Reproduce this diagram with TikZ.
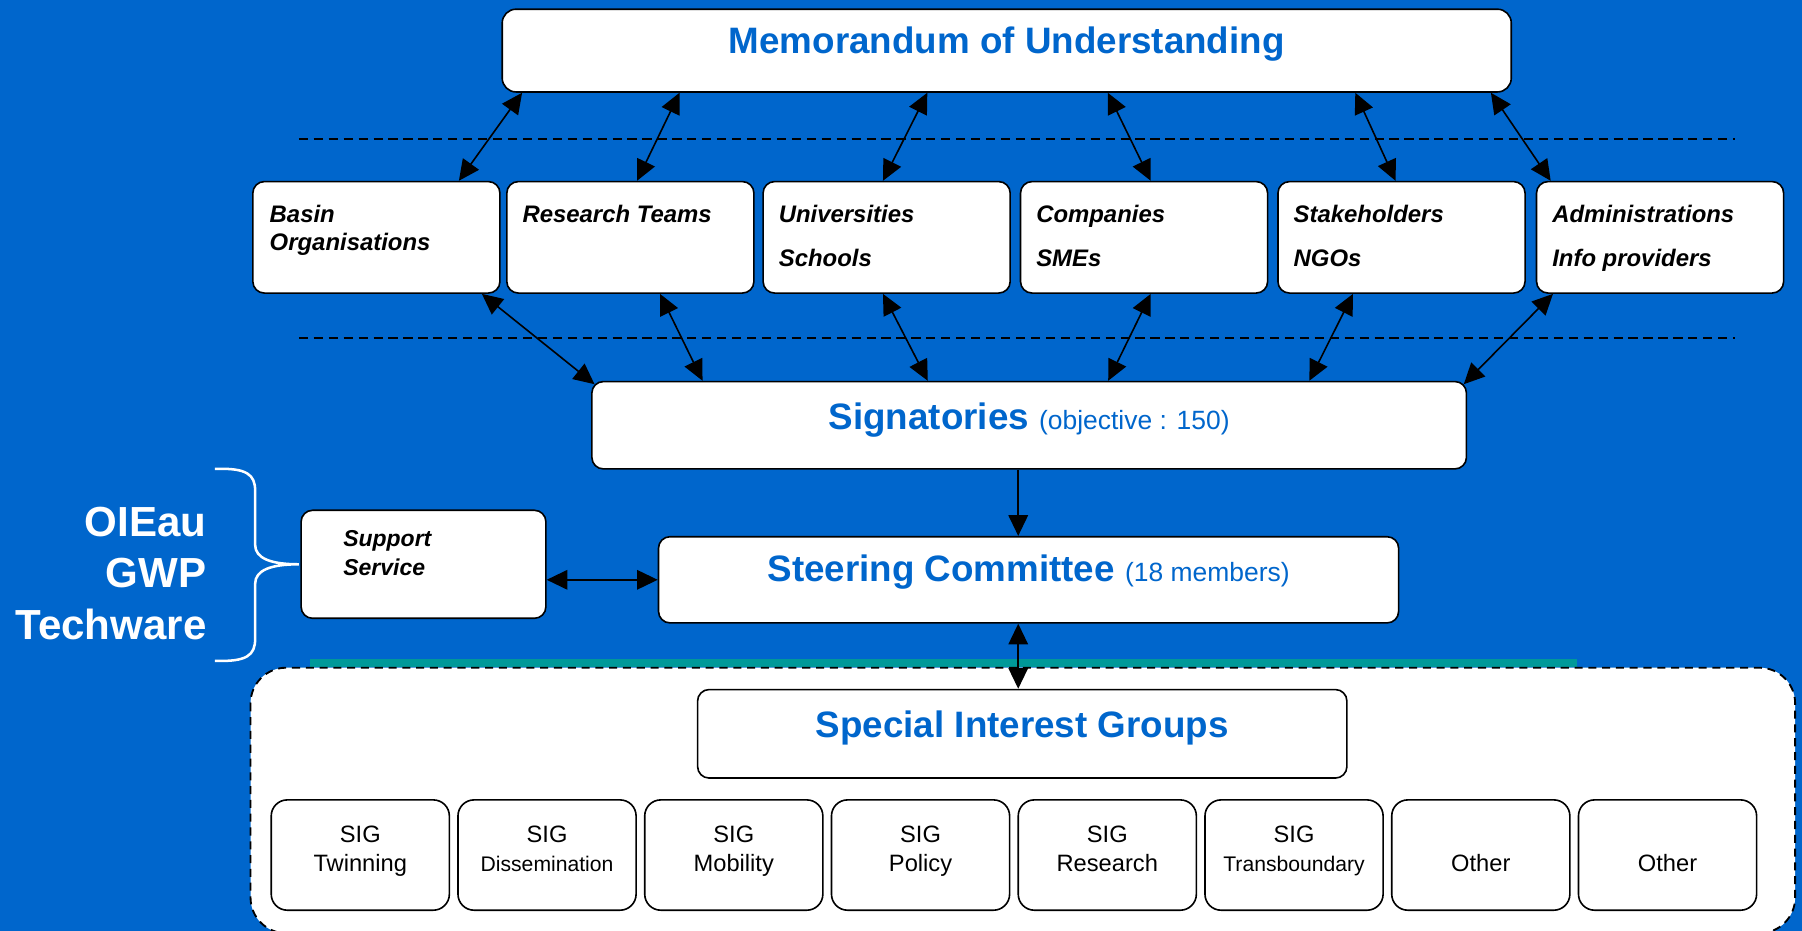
\documentclass[tikz,border=0pt]{standalone}
\usepackage{fontspec}
\setmainfont{Liberation Sans}
\usetikzlibrary{calc,arrows.meta}
\definecolor{bgblue}{RGB}{0,102,204}
\definecolor{txtblue}{RGB}{0,102,204}
\definecolor{tealbar}{RGB}{0,153,153}
\newcommand{\bigfont}{\fontsize{16}{19}\selectfont\bfseries}
\newcommand{\smallblue}{\fontsize{11.5}{14}\selectfont\mdseries}
\newcommand{\partfont}{\fontsize{10.4}{12.5}\selectfont\bfseries\itshape}
\newcommand{\supfont}{\fontsize{10}{12.5}\selectfont\bfseries\itshape}
\newcommand{\sidefont}{\fontsize{18.3}{22.3}\selectfont\bfseries}
\newcommand{\sigfont}{\fontsize{10.3}{12.5}\selectfont}
\newcommand{\sigsmall}{\fontsize{9.2}{11}\selectfont}

\tikzset{
  box/.style={draw=black, line width=0.7pt, fill=white, rounded corners=5pt, inner sep=0pt},
  partbox/.style={box, minimum width=107.5pt, minimum height=48.5pt},
  sigbox/.style={box, rounded corners=7pt, minimum width=77.5pt, minimum height=48pt},
  parttext/.style={font=\partfont, align=left, inner sep=0pt, anchor=north west},
  sigtext/.style={font=\sigfont, align=center, inner sep=0pt, anchor=north},
  headtext/.style={font=\bigfont, text=txtblue, inner sep=0pt, anchor=base},
  link/.style={line width=0.7pt, >={Triangle[length=9pt,width=8.5pt]}, <->},
  feed/.style={link, ->},
  sepline/.style={draw=black, line width=0.8pt, dash pattern=on 4pt off 2.5pt},
}

\begin{document}
\begin{tikzpicture}[x=0.5pt, y=-0.5pt]

    \fill[bgblue] (0,0) rectangle (1568,810);
    \useasboundingbox (0,0) rectangle (1568,810);

    % separateurs
    \draw[sepline] (260,121) -- (1510,121);
    \draw[sepline] (260,294) -- (1510,294);

    % cadre des SIG
    \draw[tealbar, line width=3.5pt] (270,577) -- (1372,577);
    \draw[fill=white, draw=black, line width=0.8pt, dash pattern=on 3.5pt off 2.5pt, rounded corners=15.5pt] (218,581) rectangle (1562,812);

    % memorandum
    \node[box, rounded corners=6pt, minimum width=439pt, minimum height=36pt] (memo) at (876,44) {};
    \node[headtext] (memoT) at ($(memo.north)+(0,39)$) {Memorandum of Understanding};

    % partenaires
    \node[partbox] (basin) at (327.5,206.5) {};
    \node[partbox] (research) at (548.5,206.5) {};
    \node[partbox] (univ) at (771.5,206.5) {};
    \node[partbox] (comp) at (995.5,206.5) {};
    \node[partbox] (stake) at (1219.5,206.5) {};
    \node[partbox] (admin) at (1444.5,206.5) {};

    \node[parttext] (basinT) at ($(basin.north west)+(15,20.5)$) {Basin\\Organisations};
    \node[parttext] (researchT) at ($(research.north west)+(14,20.5)$) {Research Teams};
    \node[parttext] (univT) at ($(univ.north west)+(14,20.5)$) {Universities\\[7pt]Schools};
    \node[parttext] (compT) at ($(comp.north west)+(14,20.5)$) {Companies\\[7pt]SMEs};
    \node[parttext] (stakeT) at ($(stake.north west)+(14,20.5)$) {Stakeholders\\[7pt]NGOs};
    \node[parttext] (adminT) at ($(admin.north west)+(14,20.5)$) {Administrations\\[7pt]Info providers};

    % signataires
    \node[box, minimum width=380.5pt, minimum height=38pt] (sign) at (895.5,370) {};
    \node[headtext] (signT) at ($(sign.north)+(0,42)$) {Signatories {\smallblue(objective : 150)}};

    % comite
    \node[box, minimum width=322pt, minimum height=37.5pt] (steer) at (895,504.5) {};
    \node[headtext] (steerT) at ($(steer.north)+(0,40)$) {Steering Committee {\smallblue(18 members)}};

    \node[box, minimum width=106.5pt, minimum height=47pt] (support) at (368.5,491) {};
    \node[parttext, font=\supfont] (supportT) at ($(support.north west)+(37,18)$) {Support\\Service};

    \node[font=\sidefont, text=white, align=right, anchor=north east, inner sep=0pt] (team) at (180,441) {OIEau\\GWP\\Techware};
    \draw[white, line width=1.1pt] (187,408) .. controls (215,407) and (222,413) .. (222,427) -- (222,474)
      .. controls (222,486) and (236,491) .. (260,491) .. controls (236,491) and (222,496) .. (222,508)
      -- (222,556) .. controls (222,570) and (215,576) .. (187,575);

    % groupes
    \node[box, minimum width=282.5pt, minimum height=38.5pt] (sig) at (889.5,638.5) {};
    \node[headtext] (sigT) at ($(sig.north)+(0,42)$) {Special Interest Groups};

    \node[sigbox] (twin) at (313.5,744) {};
    \node[sigbox] (diss) at (476,744) {};
    \node[sigbox] (mob) at (638.5,744) {};
    \node[sigbox] (pol) at (801,744) {};
    \node[sigbox] (res) at (963.5,744) {};
    \node[sigbox] (trans) at (1126,744) {};
    \node[sigbox] (otherA) at (1288.5,744) {};
    \node[sigbox] (otherB) at (1451,744) {};

    \node[sigtext] (twinT) at ($(twin.north)+(0,23)$) {SIG\\Twinning};
    \node[sigtext] (dissT) at ($(diss.north)+(0,23)$) {SIG\\{\sigsmall Dissemination}};
    \node[sigtext] (mobT) at ($(mob.north)+(0,23)$) {SIG\\Mobility};
    \node[sigtext] (polT) at ($(pol.north)+(0,23)$) {SIG\\Policy};
    \node[sigtext] (resT) at ($(res.north)+(0,23)$) {SIG\\Research};
    \node[sigtext] (transT) at ($(trans.north)+(0,23)$) {SIG\\{\sigsmall Transboundary}};
    \node[sigtext] (otherAT) at ($(otherA.north)+(0,48)$) {Other};
    \node[sigtext] (otherBT) at ($(otherB.north)+(0,48)$) {Other};

    % liens memorandum - partenaires
    \draw[link] ($(memo.south west)+(18,0)$) -- ($(basin.north west)+(180,0)$);
    \draw[link] ($(memo.south west)+(155,0)$) -- ($(research.north west)+(114,0)$);
    \draw[link] ($(memo.south west)+(370.6,0)$) -- ($(univ.north west)+(105,0)$);
    \draw[link] ($(memo.south west)+(527.6,0)$) -- ($(comp.north west)+(114,0)$);
    \draw[link] ($(memo.south west)+(743,0)$) -- ($(stake.north west)+(103,0)$);
    \draw[link] ($(memo.south west)+(861,0)$) -- ($(admin.north west)+(13,0)$);

    % liens partenaires - signataires
    \draw[link] ($(basin.south west)+(200,0)$) -- ($(sign.north west)+(3,3)$);
    \draw[link] ($(research.south west)+(134,0)$) -- ($(sign.north west)+(97,0)$);
    \draw[link] ($(univ.south west)+(105,0)$) -- ($(sign.north west)+(293,0)$);
    \draw[link] ($(comp.south west)+(114,0)$) -- ($(sign.north west)+(450,0)$);
    \draw[link] ($(stake.south west)+(66,0)$) -- ($(sign.north west)+(625,0)$);
    \draw[link] ($(admin.south west)+(15,0)$) -- ($(sign.north east)+(-3,3)$);

    \draw[feed] ($(sign.south)+(-9.5,0)$) -- ($(steer.north)+(-9,0)$);
    \draw[link] (support.east |- steer.west) -- (steer.west);
    \draw[link] ($(steer.south)+(-9,0)$) -- ($(sig.north)+(-3.5,0)$);

\end{tikzpicture}
\end{document}
